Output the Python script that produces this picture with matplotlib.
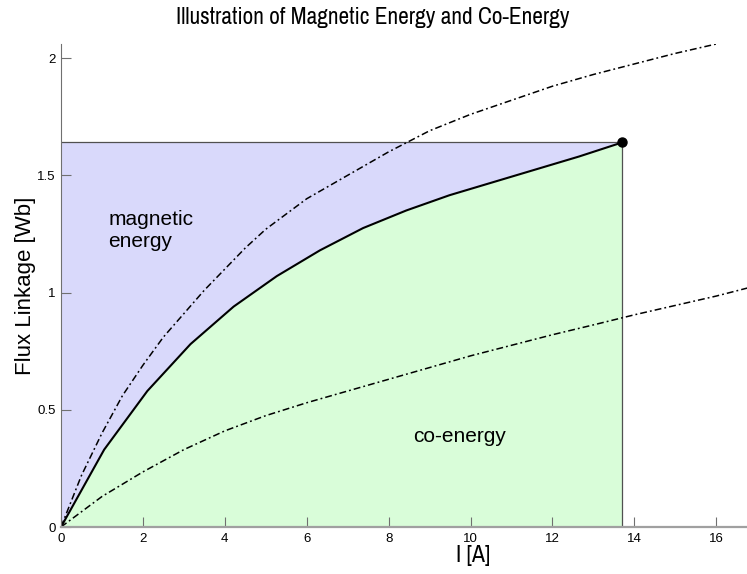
import numpy as np
import matplotlib.pyplot as plt

plt.rcParams['font.family'] = ['Liberation Sans', 'DejaVu Sans']
NARROW = ['Archivo Narrow', 'Liberation Sans', 'DejaVu Sans']

# magnetization curve (operating curve), current in A, flux linkage in Wb
i_op = [0, 1.054, 2.108, 3.162, 4.215, 5.269, 6.323, 7.377, 8.431, 9.485,
        10.538, 11.592, 12.646, 13.70]
lam_op = [0, 0.33, 0.58, 0.78, 0.94, 1.07, 1.18, 1.275, 1.35, 1.415,
          1.47, 1.525, 1.58, 1.64]

# neighbouring curves (dash-dot)
i_hi = [0, 0.5, 1, 1.5, 2, 2.5, 3, 3.5, 4, 4.5, 5, 6, 7, 8, 9, 10, 11, 12,
        13, 14, 15, 16]
lam_hi = [0, 0.22, 0.40, 0.56, 0.69, 0.81, 0.91, 1.01, 1.10, 1.19, 1.27,
          1.40, 1.50, 1.60, 1.69, 1.76, 1.82, 1.88, 1.93, 1.975, 2.02, 2.06]

i_lo = [0, 1, 2, 3, 4, 5, 6, 7, 8, 9, 10, 11, 12, 13, 14, 15, 16, 17]
lam_lo = [0, 0.13, 0.235, 0.33, 0.41, 0.475, 0.53, 0.58, 0.63, 0.68,
          0.73, 0.775, 0.82, 0.862, 0.905, 0.945, 0.985, 1.03]

i_end = i_op[-1]
lam_end = lam_op[-1]

fig = plt.figure(figsize=(7.47, 5.74), dpi=100)
ax = fig.add_axes([61 / 747, 47 / 574, 1 - 61 / 747, 483 / 574])

# magnetic energy above the curve, co-energy below it
ax.fill_betweenx(lam_op, 0, i_op, color='#d9d9fb', linewidth=0)
ax.fill_between(i_op, lam_op, 0, color='#d9fdd9', linewidth=0)
ax.plot([0, i_end], [lam_end, lam_end], color='#505050', lw=0.9)
ax.plot([i_end, i_end], [0, lam_end], color='#505050', lw=0.9)

dashdot = (0, (4.5, 2, 1.2, 2))
ax.plot(i_hi, lam_hi, color='black', lw=1.1, linestyle=dashdot)
ax.plot(i_lo, lam_lo, color='black', lw=1.1, linestyle=dashdot)
ax.plot(i_op, lam_op, color='black', lw=1.5)
ax.plot([i_end], [lam_end], 'o', color='black', markersize=6.5)

ax.text(1.15, 1.35, 'magnetic\nenergy', fontsize=15, va='top', ha='left',
        linespacing=1.2)
ax.text(9.72, 0.385, 'co-energy', fontsize=15, va='center', ha='center')

ax.set_xlim(0, 16.75)
ax.set_ylim(0, 2.06)
ax.set_xticks(range(0, 17, 2))
ax.set_yticks([0, 0.5, 1, 1.5, 2])
ax.set_yticklabels(['0', '0.5', '1', '1.5', '2'])

for s in ['top', 'right']:
    ax.spines[s].set_visible(False)
ax.spines['left'].set_color('#707070')
ax.spines['bottom'].set_color('#a0a0a0')
ax.spines['bottom'].set_linewidth(1.6)
ax.tick_params(direction='in', length=7, color='#707070', labelsize=9.5,
               pad=4)

fig.text(473 / 747, 1 - 556 / 574, 'I [A]', fontsize=17, family=NARROW,
         ha='center', va='center')
ax.set_ylabel('Flux Linkage [Wb]', fontsize=16)
ax.yaxis.set_label_coords(-0.037, 0.5)

fig.text(373 / 747, 1 - 18 / 574, 'Illustration of Magnetic Energy and Co-Energy',
         fontsize=16.8, ha='center', va='center', family=NARROW)

fig.savefig('out.png', dpi=100)
